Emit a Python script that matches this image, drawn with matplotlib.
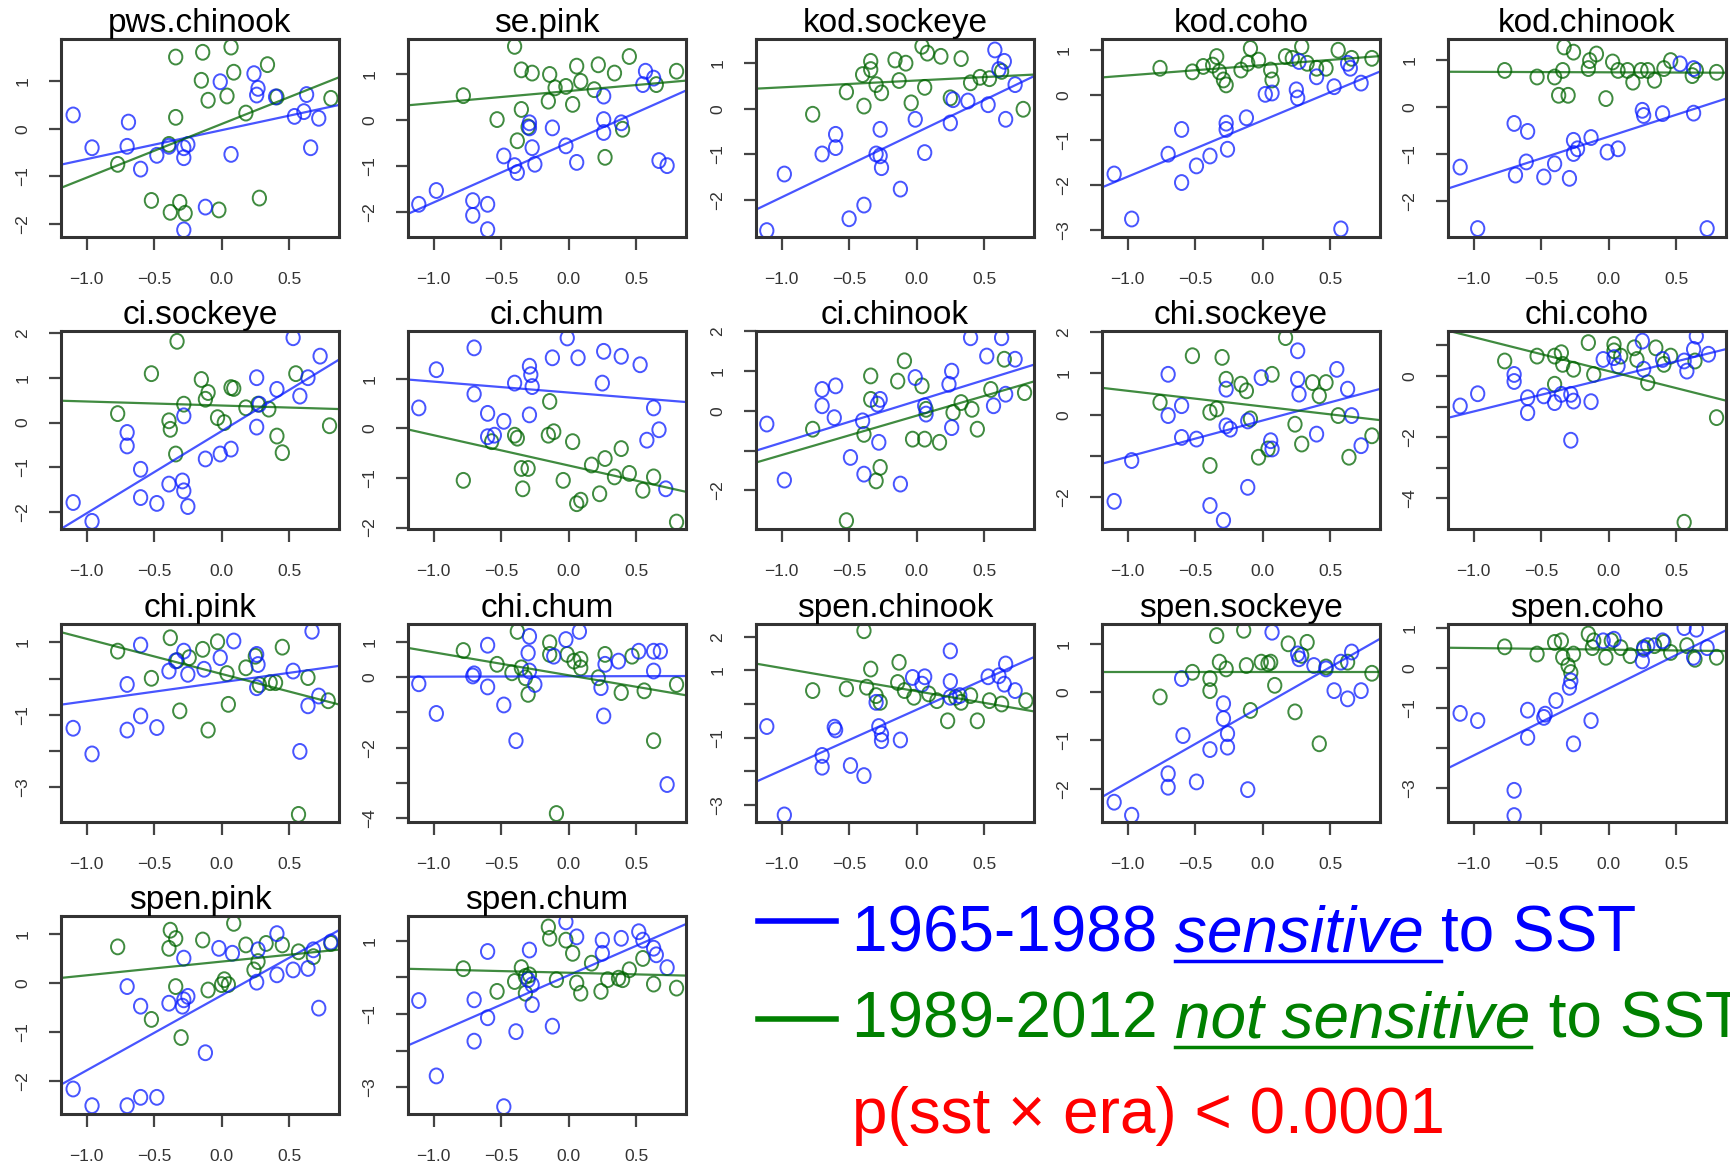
import numpy as np
import matplotlib
matplotlib.use("Agg")
import matplotlib.pyplot as plt
from matplotlib.lines import Line2D
from matplotlib.path import Path
from matplotlib.transforms import Affine2D

plt.rcParams['font.family'] = ['Liberation Sans', 'DejaVu Sans']

# ---- data: (SST anomaly, productivity) per stock ----
# early = 1965-1988 (blue), late = 1989-2012 (green)
pws_chinook_early = [(-1.10, 0.29), (-0.69, 0.14), (-0.96, -0.40), (-0.70, -0.37), (-0.60, -0.85), (-0.48, -0.56),
                     (-0.39, -0.37), (-0.28, -0.40), (-0.28, -0.61), (-0.25, -0.33), (0.07, -0.54), (-0.01, 0.99),
                     (0.24, 1.16), (0.26, 0.71), (0.27, 0.85), (0.40, 0.67), (0.63, 0.72), (0.54, 0.26),
                     (0.61, 0.36), (0.72, 0.22), (0.66, -0.40), (-0.28, -2.13), (-0.12, -1.65)]
pws_chinook_late = [(-0.34, 1.51), (-0.14, 1.61), (0.07, 1.72), (0.09, 1.19), (-0.15, 1.02), (0.34, 1.35),
                    (0.04, 0.69), (-0.10, 0.60), (0.41, 0.67), (0.81, 0.64), (0.18, 0.33), (-0.34, 0.24),
                    (-0.39, -0.33), (-0.77, -0.75), (-0.52, -1.51), (-0.38, -1.76), (-0.31, -1.55),
                    (-0.27, -1.78), (-0.02, -1.71), (0.28, -1.46)]

se_pink_early = [(-1.11, -1.83), (-0.98, -1.53), (-0.71, -1.75), (-0.60, -1.83), (-0.71, -2.07), (-0.60, -2.38),
                 (-0.48, -0.78), (-0.40, -0.99), (-0.38, -1.14), (-0.27, -0.60), (-0.25, -0.96), (-0.29, -0.06),
                 (-0.29, -0.17), (-0.12, -0.17), (-0.02, -0.56), (0.06, -0.92), (0.26, 0.01), (0.26, -0.27),
                 (0.39, -0.06), (0.26, 0.52), (0.57, 1.06), (0.55, 0.77), (0.63, 0.91), (0.67, -0.88), (0.73, -0.99)]
se_pink_late = [(-0.40, 1.60), (-0.78, 0.53), (-0.35, 1.09), (-0.27, 1.02), (-0.14, 0.99), (0.06, 1.17),
                (0.22, 1.20), (0.34, 1.02), (0.45, 1.38), (0.80, 1.06), (-0.10, 0.70), (-0.02, 0.73),
                (0.09, 0.84), (0.19, 0.66), (-0.15, 0.41), (0.03, 0.34), (-0.35, 0.23), (-0.53, 0.01),
                (-0.38, -0.45), (0.40, -0.20), (0.27, -0.81), (-0.30, -0.15), (0.65, 0.77)]

kod_sockeye_early = [(-1.11, -2.67), (-0.98, -1.43), (-0.70, -0.99), (-0.60, -0.56), (-0.60, -0.85), (-0.50, -2.41),
                     (-0.39, -2.11), (-0.30, -0.99), (-0.27, -1.03), (-0.26, -1.29), (-0.27, -0.45), (-0.12, -1.76),
                     (-0.01, -0.23), (0.06, -0.96), (0.25, -0.31), (0.27, 0.20), (0.38, 0.17), (0.53, 0.09),
                     (0.58, 1.29), (0.65, 1.04), (0.66, -0.23), (0.73, 0.53), (0.61, 0.86)]
kod_sockeye_late = [(-0.77, -0.12), (-0.52, 0.37), (-0.39, 0.06), (-0.40, 0.75), (-0.34, 1.04), (-0.34, 0.86),
                    (-0.30, 0.53), (-0.26, 0.35), (-0.16, 1.07), (-0.08, 1.00), (-0.13, 0.62), (0.06, 0.47),
                    (-0.04, 0.13), (0.04, 1.37), (0.08, 1.22), (0.18, 1.15), (0.33, 1.10), (0.25, 0.24),
                    (0.40, 0.57), (0.47, 0.69), (0.63, 0.82), (0.79, -0.01), (0.54, 0.66)]

kod_coho_early = [(-1.10, -1.76), (-0.97, -2.76), (-0.70, -1.32), (-0.60, -0.77), (-0.60, -1.95), (-0.49, -1.58),
                  (-0.39, -1.36), (-0.27, -0.63), (-0.27, -0.77), (-0.26, -1.21), (-0.12, -0.51), (0.02, 0.01),
                  (0.07, 0.04), (0.25, 0.11), (0.26, -0.07), (0.40, 0.40), (0.53, 0.18), (0.58, -2.98),
                  (0.65, 0.59), (0.73, 0.26), (0.27, 0.74), (0.63, 0.70)]
kod_coho_late = [(-0.76, 0.59), (-0.52, 0.51), (-0.44, 0.63), (-0.37, 0.66), (-0.34, 0.85), (-0.32, 0.51),
                 (-0.29, 0.33), (-0.27, 0.22), (-0.16, 0.55), (-0.11, 0.70), (-0.09, 1.03), (-0.03, 0.77),
                 (0.06, 0.55), (0.07, 0.33), (0.17, 0.85), (0.22, 0.81), (0.29, 1.07), (0.33, 0.70),
                 (0.47, 0.59), (0.56, 0.99), (0.66, 0.81), (0.81, 0.81), (0.40, 0.59)]

kod_chinook_early = [(-1.10, -1.28), (-0.97, -2.59), (-0.70, -0.35), (-0.60, -0.52), (-0.69, -1.45), (-0.61, -1.17),
                     (-0.48, -1.49), (-0.40, -1.21), (-0.29, -1.52), (-0.26, -0.71), (-0.26, -0.99), (-0.23, -0.89),
                     (-0.13, -0.65), (-0.01, -0.96), (0.07, -0.89), (0.25, -0.07), (0.26, -0.18), (0.40, -0.14),
                     (0.63, -0.13), (0.73, -2.59), (0.53, 0.92), (0.63, 0.82)]
kod_chinook_late = [(-0.77, 0.78), (-0.53, 0.64), (-0.40, 0.64), (-0.37, 0.25), (-0.30, 0.25), (-0.34, 0.78),
                    (-0.33, 1.28), (-0.26, 1.17), (-0.14, 0.99), (-0.09, 1.13), (-0.15, 0.82), (-0.02, 0.18),
                    (0.03, 0.96), (0.07, 0.78), (0.14, 0.78), (0.18, 0.53), (0.24, 0.78), (0.29, 0.78),
                    (0.34, 0.57), (0.41, 0.82), (0.46, 0.99), (0.65, 0.78), (0.80, 0.74), (0.62, 0.67)]

ci_sockeye_early = [(-1.10, -1.78), (-0.96, -2.20), (-0.70, -0.22), (-0.70, -0.52), (-0.60, -1.04), (-0.60, -1.67),
                    (-0.48, -1.80), (-0.39, -1.37), (-0.29, -1.30), (-0.28, -1.52), (-0.25, -1.87), (-0.28, 0.15),
                    (-0.12, -0.81), (-0.01, -0.70), (0.07, -0.59), (0.26, 1.00), (0.26, -0.10), (0.28, 0.41),
                    (0.41, 0.74), (0.53, 1.89), (0.58, 0.59), (0.64, 1.00), (0.73, 1.48)]
ci_sockeye_late = [(-0.33, 1.81), (-0.52, 1.09), (-0.77, 0.20), (-0.39, 0.04), (-0.38, -0.15), (-0.34, -0.70),
                   (-0.28, 0.41), (-0.15, 0.96), (-0.10, 0.67), (-0.12, 0.52), (-0.03, 0.11), (0.07, 0.78),
                   (0.09, 0.76), (0.18, 0.33), (0.27, 0.41), (0.35, 0.30), (0.41, -0.30), (0.45, -0.67),
                   (0.55, 1.09), (0.80, -0.07), (0.02, 0.00)]

ci_chum_early = [(-1.11, 0.41), (-0.98, 1.18), (-0.70, 1.62), (-0.70, 0.69), (-0.60, 0.30), (-0.60, -0.17),
                 (-0.48, 0.14), (-0.40, 0.91), (-0.29, 0.27), (-0.29, 1.25), (-0.28, 1.08), (-0.27, 0.84),
                 (-0.12, 1.42), (-0.01, 1.82), (0.07, 1.42), (0.25, 0.91), (0.26, 1.55), (0.39, 1.45),
                 (0.53, 1.28), (0.63, 0.41), (0.67, -0.03), (0.58, -0.24), (0.72, -1.22), (-0.55, -0.14)]
ci_chum_late = [(-0.78, -1.05), (-0.57, -0.27), (-0.40, -0.14), (-0.38, -0.20), (-0.35, -0.81), (-0.30, -0.81),
                (-0.34, -1.22), (-0.15, -0.14), (-0.11, -0.07), (-0.14, 0.54), (0.03, -0.27), (-0.04, -1.05),
                (0.06, -1.52), (0.09, -1.45), (0.17, -0.74), (0.23, -1.32), (0.27, -0.61), (0.34, -0.98),
                (0.39, -0.41), (0.45, -0.91), (0.55, -1.25), (0.63, -0.98), (0.80, -1.89)]

ci_chinook_early = [(-1.11, -0.33), (-0.98, -1.74), (-0.70, 0.13), (-0.70, 0.54), (-0.60, 0.63), (-0.61, -0.17),
                    (-0.49, -1.17), (-0.39, -1.59), (-0.40, -0.25), (-0.29, 0.17), (-0.27, 0.29), (-0.28, -0.79),
                    (-0.12, -1.84), (-0.01, 0.84), (0.06, 0.13), (0.07, -0.08), (0.24, 0.67), (0.26, 1.00),
                    (0.26, -0.42), (0.40, 1.84), (0.52, 1.38), (0.57, 0.13), (0.63, 1.84), (0.73, 1.30), (0.66, 0.42)]
ci_chinook_late = [(-0.77, -0.46), (-0.52, -2.76), (-0.39, -0.59), (-0.34, 0.88), (-0.34, 0.29), (-0.30, -1.76),
                   (-0.27, -1.42), (-0.14, 0.75), (-0.09, 1.26), (0.04, 0.63), (-0.03, -0.71), (0.06, -0.71),
                   (0.17, -0.79), (0.27, -0.04), (0.33, 0.21), (0.41, 0.04), (0.45, -0.46), (0.55, 0.54),
                   (0.65, 1.30), (0.80, 0.46), (0.07, 0.04)]

chi_sockeye_early = [(-1.10, -2.10), (-0.97, -1.11), (-0.70, 0.98), (-0.70, -0.02), (-0.60, 0.22), (-0.60, -0.55),
                     (-0.49, -0.59), (-0.39, -2.20), (-0.29, -2.56), (-0.27, 0.62), (-0.27, -0.27), (-0.24, -0.35),
                     (-0.11, -0.15), (-0.11, -1.76), (-0.01, 0.90), (0.06, -0.63), (0.07, -0.83), (0.26, 1.55),
                     (0.26, 0.86), (0.27, 0.50), (0.40, -0.47), (0.55, 1.10), (0.63, 0.62), (0.66, -0.02), (0.73, -0.75)]
chi_sockeye_late = [(-0.76, 0.30), (-0.52, 1.43), (-0.39, -1.23), (-0.39, 0.06), (-0.34, 0.14), (-0.30, 1.39),
                    (-0.27, 0.86), (-0.16, 0.74), (-0.12, 0.58), (-0.09, -0.10), (-0.03, -1.03), (0.07, 0.98),
                    (0.17, 1.87), (0.24, -0.23), (0.29, -0.71), (0.37, 0.78), (0.42, 0.46), (0.47, 0.78),
                    (0.56, -0.02), (0.64, -1.03), (0.81, -0.51), (0.04, -0.83)]

chi_coho_early = [(-1.10, -0.98), (-0.97, -0.58), (-0.70, 0.05), (-0.70, -0.18), (-0.60, -0.71), (-0.60, -1.20),
                  (-0.48, -0.65), (-0.40, -0.87), (-0.35, -0.60), (-0.28, -0.60), (-0.26, -0.82), (-0.28, -2.10),
                  (-0.13, -0.84), (-0.04, 0.54), (0.04, 0.60), (0.07, 0.33), (0.25, 1.14), (0.26, 0.22),
                  (0.40, 0.54), (0.56, 0.49), (0.65, 1.30), (0.58, 0.16), (0.74, 0.71), (0.63, 0.87)]
chi_coho_late = [(-0.77, 0.49), (-0.53, 0.65), (-0.40, 0.65), (-0.34, 0.38), (-0.35, 0.76), (-0.26, 0.22),
                 (-0.40, -0.27), (-0.15, 1.09), (-0.11, 0.05), (0.04, 1.03), (0.09, 0.65), (0.19, 0.92),
                 (0.21, 0.54), (0.29, -0.22), (0.35, 0.92), (0.41, 0.38), (0.46, 0.65), (0.64, 0.49),
                 (0.80, -1.36), (0.56, -4.78), (0.04, 0.82)]

chi_pink_early = [(-1.10, -1.37), (-0.96, -2.08), (-0.70, -0.16), (-0.70, -1.42), (-0.60, 0.93), (-0.60, -1.03),
                  (-0.48, -1.35), (-0.39, 0.21), (-0.28, 0.76), (-0.25, 0.12), (-0.13, 0.26), (-0.01, 0.58),
                  (0.09, 1.04), (0.26, 0.67), (0.26, -0.25), (0.27, 0.39), (0.53, 0.21), (0.58, -2.01),
                  (0.64, -0.75), (0.67, 1.31), (0.72, -0.48), (-0.34, 0.49)]
chi_pink_late = [(-0.77, 0.76), (-0.52, 0.01), (-0.38, 1.13), (-0.33, 0.50), (-0.31, -0.89), (-0.24, 0.58),
                 (-0.14, 0.81), (-0.10, -1.42), (-0.03, 1.02), (0.05, -0.71), (0.04, 0.14), (0.18, 0.30),
                 (0.25, 0.62), (0.28, -0.17), (0.36, -0.11), (0.40, -0.11), (0.45, 0.87), (0.57, -3.75),
                 (0.64, 0.03), (0.79, -0.61)]

chi_chum_early = [(-1.11, -0.19), (-0.98, -1.03), (-0.70, 0.09), (-0.60, 0.90), (-0.60, -0.28), (-0.48, -0.79),
                  (-0.39, -1.80), (-0.29, 1.15), (-0.30, 0.68), (-0.29, 0.17), (-0.25, -0.21), (-0.11, 0.59),
                  (-0.02, 1.06), (0.08, 1.29), (0.24, -0.30), (0.26, -1.10), (0.27, 0.36), (0.37, 0.45),
                  (0.52, 0.73), (0.63, 0.73), (0.63, 0.17), (0.68, 0.73), (0.73, -3.04), (-0.71, 0.03)]
chi_chum_late = [(-0.78, 0.75), (-0.53, 0.36), (-0.38, 1.29), (-0.42, 0.12), (-0.35, 0.26), (-0.30, -0.49),
                 (-0.32, -0.02), (-0.14, 0.97), (-0.14, 0.64), (-0.09, -3.86), (-0.01, 0.64), (0.04, 0.45),
                 (0.09, 0.26), (0.27, 0.64), (0.22, -0.02), (0.39, -0.44), (0.47, 0.59), (0.56, -0.39),
                 (0.63, -1.80), (0.80, -0.21), (0.09, 0.50)]

spen_chinook_early = [(-1.11, -0.67), (-0.98, -3.30), (-0.70, -1.53), (-0.70, -1.88), (-0.61, -0.69), (-0.60, -0.77),
                      (-0.49, -1.83), (-0.39, -2.13), (-0.28, -0.67), (-0.26, -0.89), (-0.26, -1.09), (-0.12, -1.07),
                      (-0.30, 0.05), (-0.03, 0.79), (0.06, 0.81), (0.04, 0.59), (0.25, 1.58), (0.25, 0.67),
                      (0.25, 0.20), (0.32, 0.25), (0.53, 0.81), (0.66, 1.19), (0.65, 0.59), (0.73, 0.40), (0.61, 0.84)]
spen_chinook_late = [(-0.77, 0.40), (-0.52, 0.45), (-0.39, 2.18), (-0.34, 1.04), (-0.37, 0.50), (-0.30, 0.25),
                     (-0.27, 0.05), (-0.13, 1.24), (-0.14, 0.64), (-0.09, 0.40), (-0.02, 0.20), (0.09, 0.30),
                     (0.15, 0.10), (0.23, -0.50), (0.29, 0.20), (0.40, 0.25), (0.45, -0.50), (0.54, 0.10),
                     (0.63, 0.00), (0.81, 0.10), (0.33, 0.05)]

spen_sockeye_early = [(-1.10, -2.28), (-0.97, -2.55), (-0.70, -1.69), (-0.70, -1.97), (-0.60, 0.28), (-0.59, -0.90),
                      (-0.49, -1.86), (-0.39, -1.19), (-0.29, -0.24), (-0.29, -0.55), (-0.26, -0.86), (-0.26, -1.14),
                      (-0.11, -2.02), (0.07, 1.24), (0.26, 0.79), (0.27, 0.69), (0.38, 0.55), (0.47, 0.48),
                      (0.53, 0.03), (0.63, -0.14), (0.66, 0.83), (0.73, 0.03), (0.58, 0.62)]
spen_sockeye_late = [(-0.76, -0.10), (-0.52, 0.41), (-0.39, 0.28), (-0.39, 0.03), (-0.34, 1.17), (-0.32, 0.62),
                     (-0.27, 0.48), (-0.14, 1.28), (-0.12, 0.55), (-0.09, -0.38), (-0.01, 0.62), (0.06, 0.62),
                     (0.09, 0.14), (0.19, 1.00), (0.24, -0.41), (0.33, 1.03), (0.29, 0.76), (0.42, -1.07),
                     (0.47, 0.52), (0.63, 0.62), (0.81, 0.39), (0.04, 0.59)]

spen_coho_early = [(-1.10, -1.13), (-0.97, -1.31), (-0.70, -3.05), (-0.70, -3.68), (-0.60, -1.05), (-0.60, -1.73),
                   (-0.48, -1.23), (-0.47, -1.15), (-0.39, -0.81), (-0.29, -0.48), (-0.28, -0.32), (-0.26, -1.89),
                   (-0.13, -1.31), (-0.04, 0.68), (0.04, 0.72), (0.25, 0.18), (0.26, 0.47), (0.40, 0.68),
                   (0.56, 1.01), (0.65, 0.97), (0.63, 0.27), (0.73, 0.51), (0.29, 0.56)]
spen_coho_late = [(-0.77, 0.53), (-0.53, 0.35), (-0.40, 0.64), (-0.35, 0.68), (-0.34, 0.27), (-0.30, 0.06),
                  (-0.28, -0.11), (-0.26, 0.35), (-0.15, 0.85), (-0.12, 0.51), (-0.02, 0.27), (0.02, 0.68),
                  (0.09, 0.51), (0.16, 0.31), (0.26, 0.51), (0.34, 0.56), (0.41, 0.64), (0.46, 0.39),
                  (0.64, 0.22), (0.80, 0.27), (0.58, 0.56), (-0.11, 0.68)]

spen_pink_early = [(-1.10, -2.16), (-0.96, -2.50), (-0.70, -2.50), (-0.60, -2.33), (-0.48, -2.33), (-0.70, -0.07),
                   (-0.60, -0.47), (-0.39, -0.41), (-0.29, -0.47), (-0.28, -0.34), (-0.25, -0.27), (-0.12, -1.42),
                   (-0.28, 0.51), (-0.02, 0.71), (0.08, 0.61), (0.26, 0.02), (0.27, 0.68), (0.41, 1.01),
                   (0.41, 0.17), (0.53, 0.27), (0.64, 0.30), (0.68, 0.68), (0.72, -0.51), (0.81, 0.84)]
spen_pink_late = [(-0.77, 0.74), (-0.52, -0.74), (-0.38, 1.08), (-0.39, 0.71), (-0.34, 0.91), (-0.34, -0.07),
                  (-0.30, -1.11), (-0.14, 0.88), (-0.10, -0.14), (0.02, 0.07), (0.05, -0.03), (0.09, 1.22),
                  (0.18, 0.78), (0.27, 0.44), (0.24, 0.27), (0.33, 0.81), (0.45, 0.78), (0.57, 0.64),
                  (0.68, 0.54), (0.81, 0.81), (0.00, -0.03)]

spen_chum_early = [(-1.11, -0.63), (-0.98, -2.69), (-0.70, -0.61), (-0.70, -1.74), (-0.60, 0.71), (-0.60, -1.10),
                   (-0.48, -3.53), (-0.39, -1.48), (-0.29, 0.75), (-0.27, -0.20), (-0.27, -0.74), (-0.12, -1.33),
                   (-0.02, 1.52), (0.06, 1.11), (0.25, 1.02), (0.25, 0.66), (0.39, 1.07), (0.52, 1.25),
                   (0.63, 0.80), (0.65, 0.62), (0.73, 0.27), (0.55, 1.02), (-0.30, -0.06)]
spen_chum_late = [(-0.78, 0.24), (-0.53, -0.38), (-0.40, -0.11), (-0.35, 0.27), (-0.32, 0.03), (-0.29, 0.07),
                  (-0.32, -0.43), (-0.15, 1.38), (-0.14, 1.07), (-0.02, 1.02), (0.03, 0.66), (-0.09, -0.06),
                  (0.06, -0.15), (0.09, -0.43), (0.17, 0.39), (0.24, -0.38), (0.29, -0.06), (0.37, -0.02),
                  (0.45, 0.21), (0.55, 0.52), (0.63, -0.18), (0.80, -0.29), (0.40, -0.06)]

names = ['pws.chinook', 'se.pink', 'kod.sockeye', 'kod.coho', 'kod.chinook',
         'ci.sockeye', 'ci.chum', 'ci.chinook', 'chi.sockeye', 'chi.coho',
         'chi.pink', 'chi.chum', 'spen.chinook', 'spen.sockeye', 'spen.coho',
         'spen.pink', 'spen.chum']
early_pts = [pws_chinook_early, se_pink_early, kod_sockeye_early, kod_coho_early, kod_chinook_early,
             ci_sockeye_early, ci_chum_early, ci_chinook_early, chi_sockeye_early, chi_coho_early,
             chi_pink_early, chi_chum_early, spen_chinook_early, spen_sockeye_early, spen_coho_early,
             spen_pink_early, spen_chum_early]
late_pts = [pws_chinook_late, se_pink_late, kod_sockeye_late, kod_coho_late, kod_chinook_late,
            ci_sockeye_late, ci_chum_late, ci_chinook_late, chi_sockeye_late, chi_coho_late,
            chi_pink_late, chi_chum_late, spen_chinook_late, spen_sockeye_late, spen_coho_late,
            spen_pink_late, spen_chum_late]

# fitted lines (intercept, slope)
early_fit = [(-0.03, 0.61), (-0.49, 1.30), (-0.52, 1.42), (-0.57, 1.25), (-0.63, 0.93),
             (-0.19, 1.83), (0.72, -0.22), (0.25, 1.05), (-0.14, 0.88), (-0.07, 1.09),
             (-0.10, 0.52), (0.02, 0.01), (-0.17, 1.80), (-0.28, 1.59), (-0.51, 1.67),
             (-0.25, 1.53), (0.06, 1.61)]
late_fit = [(0.10, 1.13), (0.63, 0.26), (0.62, 0.15), (0.66, 0.23), (0.74, -0.01),
            (0.38, -0.09), (-0.75, -0.61), (-0.12, 0.99), (0.20, -0.38), (0.16, -1.11),
            (0.13, -0.97), (0.05, -0.65), (0.38, -0.69), (0.41, 0.00), (0.46, -0.04),
            (0.44, 0.28), (0.13, -0.09)]

ylims = [(-2.28, 1.89), (-2.54, 1.76), (-2.81, 1.53), (-3.16, 1.24), (-2.77, 1.45),
         (-2.37, 2.04), (-2.03, 1.96), (-2.97, 2.01), (-2.77, 2.03), (-5.0, 1.47),
         (-3.96, 1.51), (-4.10, 1.50), (-3.51, 2.38), (-2.69, 1.41), (-3.84, 1.10),
         (-2.67, 1.37), (-3.73, 1.68)]
yticks = [[-2, -1, 0, 1], [-2, -1, 0, 1], [-2, -1, 0, 1], [-3, -2, -1, 0, 1], [-2, -1, 0, 1],
          [-2, -1, 0, 1, 2], [-2, -1, 0, 1], [-2, -1, 0, 1, 2], [-2, -1, 0, 1, 2], [-4, -3, -2, -1, 0, 1],
          [-3, -2, -1, 0, 1], [-4, -3, -2, -1, 0, 1], [-3, -2, -1, 0, 1, 2], [-2, -1, 0, 1], [-3, -2, -1, 0, 1],
          [-2, -1, 0, 1], [-3, -2, -1, 0, 1]]
ylabelled = [[-2, -1, 0, 1], [-2, -1, 0, 1], [-2, -1, 0, 1], [-3, -2, -1, 0, 1], [-2, -1, 0, 1],
             [-2, -1, 0, 1, 2], [-2, -1, 0, 1], [-2, 0, 1, 2], [-2, 0, 1, 2], [-4, -2, 0],
             [-3, -1, 1], [-4, -2, 0, 1], [-3, -1, 1, 2], [-2, -1, 0, 1], [-3, -1, 0, 1],
             [-2, -1, 0, 1], [-3, -1, 1]]
xticks = [-1.0, -0.5, 0.0, 0.5]
xlim = (-1.19, 0.87)

BLUE = '#0a1cff'
GREEN = '#006400'

W, H = 1731, 1168
col_left = [61, 408, 756, 1102, 1448]
row_top = [39, 331, 624, 916]
ax_w, ax_h = 278, 198

# slightly tall open circle, like the R pch=1 symbols in the original
ring = Path.unit_circle().transformed(Affine2D().scale(1.0, 1.12))

fig = plt.figure(figsize=(W / 100, H / 100), dpi=100)


def draw_panel(ax, i):
    e = np.array(early_pts[i])
    l = np.array(late_pts[i])
    ax.scatter(l[:, 0], l[:, 1], s=115, marker=ring, facecolors='none', edgecolors=GREEN,
               linewidths=1.4, alpha=0.75)
    ax.scatter(e[:, 0], e[:, 1], s=115, marker=ring, facecolors='none', edgecolors=BLUE,
               linewidths=1.4, alpha=0.75)
    ax.axline((0, early_fit[i][0]), slope=early_fit[i][1], color=BLUE, lw=1.6, alpha=0.75)
    ax.axline((0, late_fit[i][0]), slope=late_fit[i][1], color=GREEN, lw=1.6, alpha=0.75)
    ax.set_xlim(*xlim)
    ax.set_ylim(*ylims[i])
    ax.set_xticks(xticks)
    ax.set_xticklabels([f"{t:.1f}".replace('-', '\u2212') for t in xticks])
    ax.set_yticks(yticks[i])
    ax.set_yticklabels([(str(t).replace('-', '\u2212') if t in ylabelled[i] else '') for t in yticks[i]])
    ax.tick_params(axis='both', length=9, width=1.6, color='#444444', labelsize=12.5,
                   labelcolor='#333333', pad=16)
    ax.tick_params(axis='y', labelrotation=90, pad=13)
    for lab in ax.get_yticklabels():
        lab.set_va('center')
    for sp in ax.spines.values():
        sp.set_linewidth(2.2)
        sp.set_color('#333333')
    ax.set_title(names[i], fontsize=24, pad=-1)


for i in range(len(names)):
    r, c = divmod(i, 5)
    x0 = col_left[c] / W
    y0 = 1 - (row_top[r] + ax_h) / H
    ax = fig.add_axes([x0, y0, ax_w / W, ax_h / H])
    draw_panel(ax, i)

# ---- legend text ----
fig.add_artist(Line2D([758 / W, 836 / W], [1 - 921 / H, 1 - 921 / H], color='#0000ff', lw=4))
fig.add_artist(Line2D([758 / W, 836 / W], [1 - 1019 / H, 1 - 1019 / H], color='#008000', lw=4))

fs = 46
t1 = fig.text(852 / W, 1 - 952 / H, "1965-1988 ", color='#0000ff', fontsize=fs, va='baseline')
t1b = fig.text(0, 0, "sensitive ", color='#0000ff', fontsize=fs, style='italic')
t1c = fig.text(0, 0, "to SST", color='#0000ff', fontsize=fs)
t2 = fig.text(852 / W, 1 - 1038 / H, "1989-2012 ", color='#008000', fontsize=fs, va='baseline')
t2b = fig.text(0, 0, "not sensitive", color='#008000', fontsize=fs, style='italic')
t2c = fig.text(0, 0, " to SST", color='#008000', fontsize=fs)
t3 = fig.text(852 / W, 1 - 1133 / H, "p(sst \u00d7 era) < 0.0001", color='#ff0000', fontsize=fs, va='baseline')

renderer = fig.canvas.get_renderer()


def place_after(prev, nxt):
    bb = prev.get_window_extent(renderer)
    x = bb.x1 / W
    y = prev.get_position()[1]
    nxt.set_position((x, y))
    nxt.set_va('baseline')


place_after(t1, t1b)
place_after(t1b, t1c)
place_after(t2, t2b)
place_after(t2b, t2c)

for t, col in [(t1b, '#0000ff'), (t2b, '#008000')]:
    bb = t.get_window_extent(renderer)
    yb = t.get_position()[1] - 9 / H
    fig.add_artist(Line2D([bb.x0 / W, bb.x1 / W], [yb, yb], color=col, lw=2.5))

fig.savefig('out.png', dpi=100)
